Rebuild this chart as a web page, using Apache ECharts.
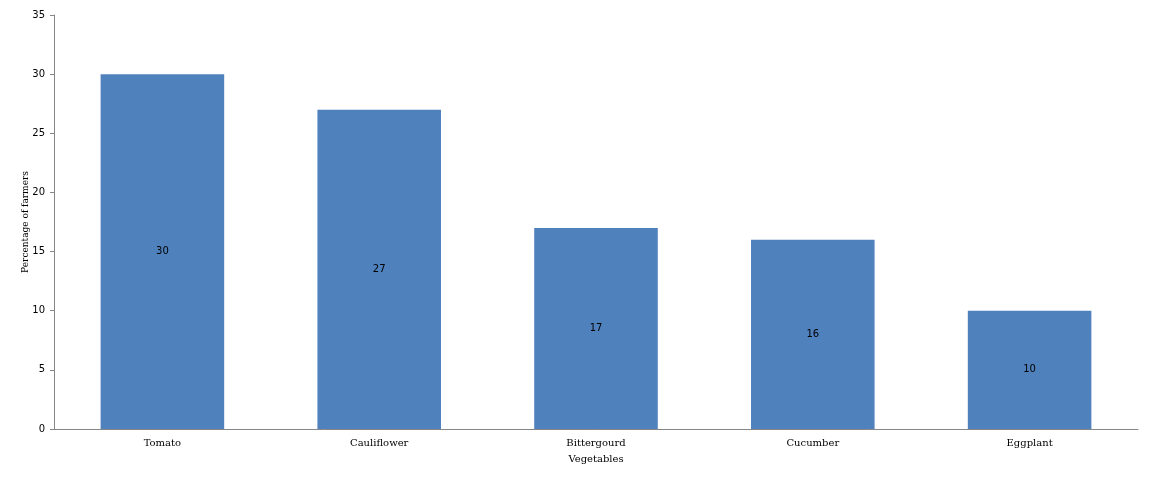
<!DOCTYPE html>
<html><head><meta charset="utf-8">
<script src="https://cdn.jsdelivr.net/npm/echarts@6/dist/echarts.min.js"></script>
<style>html,body{margin:0;padding:0;background:#fff}#c{width:1152px;height:482px}</style>
</head><body><div id="c"></div>
<script>
var categories = ["Tomato", "Cauliflower", "Bittergourd", "Cucumber", "Eggplant"];
var values = [30, 27, 17, 16, 10];
var yTicks = [0, 5, 10, 15, 20, 25, 30, 35];

var chart = echarts.init(document.getElementById('c'), null, {renderer: 'canvas'});
chart.setOption({
  animation: false,
  grid: {left: 54, right: 14, top: 15, bottom: 53},
  xAxis: {
    type: 'category', data: categories,
    name: 'Vegetables', nameLocation: 'middle', nameGap: 25,
    nameTextStyle: {fontFamily: 'DejaVu Serif', fontSize: 10, color: '#000'},
    axisLine: {lineStyle: {color: '#868686', width: 1}},
    axisTick: {show: false},
    axisLabel: {fontFamily: 'DejaVu Serif', fontSize: 10, color: '#000', margin: 9}
  },
  yAxis: {
    type: 'value', min: yTicks[0], max: yTicks[yTicks.length - 1], interval: 5,
    name: 'Percentage of farmers', nameLocation: 'middle', nameGap: 24, nameRotate: 90,
    nameMoveOverlap: false,
    nameTextStyle: {fontFamily: 'DejaVu Serif', fontSize: 9, color: '#000'},
    axisLine: {show: true, lineStyle: {color: '#868686', width: 1}},
    axisTick: {show: true, length: 4, lineStyle: {color: '#868686'}},
    axisLabel: {fontFamily: 'DejaVu Sans', fontSize: 10, color: '#000', margin: 9},
    splitLine: {show: false}
  },
  series: [{
    type: 'bar', data: values, barWidth: '57%',
    itemStyle: {color: '#4F81BD'},
    label: {show: true, position: 'inside', fontFamily: 'DejaVu Sans', fontSize: 10, color: '#000'}
  }]
});
</script></body></html>
